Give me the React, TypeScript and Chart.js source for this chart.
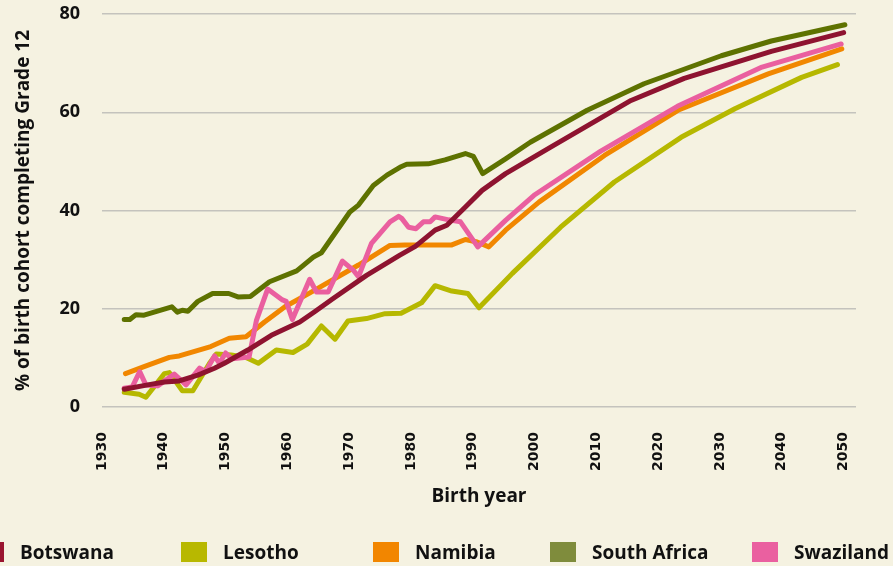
import React, { useEffect, useRef } from "react";
import { Chart, registerables } from "chart.js";

Chart.register(...registerables);

// ---- Data ----
const seriesNames = ["Botswana", "Lesotho", "Namibia", "South Africa", "Swaziland"];

const botswanaYears = [1933.6, 1937.4, 1940.1, 1942.5, 1945.5, 1948.2, 1949.8, 1953.6, 1957.4, 1962, 1964.4, 1967.4, 1972.8, 1978.2, 1980.7, 1983.9, 1985.8, 1988.8, 1991.5, 1995.3, 2002.6, 2015.6, 2024.2, 2038.3, 2050];
const botswanaValues = [3.6, 4.5, 5.1, 5.3, 6.5, 7.9, 8.9, 11.6, 14.6, 17.3, 19.4, 22.1, 26.8, 30.9, 32.7, 36.0, 37.0, 40.7, 44.1, 47.5, 52.9, 62.4, 66.9, 72.4, 76.2];

const lesothoYears = [1933.6, 1936, 1937.1, 1940.1, 1940.9, 1943, 1944.7, 1947.4, 1948.5, 1950.9, 1953.3, 1955.3, 1958.2, 1960.9, 1963.2, 1965.5, 1967.7, 1969.8, 1972.8, 1975.8, 1978.4, 1981.7, 1983.9, 1986.6, 1989.2, 1991, 1996.4, 2004.2, 2012.9, 2023.7, 2032.4, 2043.2, 2049];
const lesothoValues = [3.0, 2.6, 2.0, 6.8, 7.0, 3.3, 3.3, 8.9, 10.8, 10.6, 10.1, 8.9, 11.6, 11.1, 12.8, 16.5, 13.8, 17.5, 18.0, 19.0, 19.1, 21.2, 24.7, 23.6, 23.1, 20.2, 27.2, 36.6, 45.8, 54.9, 60.7, 67.1, 69.7];

const namibiaYears = [1933.8, 1936.8, 1940.9, 1942.5, 1947.6, 1950.6, 1953.3, 1956.3, 1959.6, 1964, 1971.5, 1976.6, 1979, 1986.6, 1988.8, 1990.7, 1992.6, 1995.3, 2000.7, 2011.3, 2023.2, 2037.8, 2049.7];
const namibiaValues = [6.8, 8.2, 10.1, 10.4, 12.3, 14.0, 14.3, 17.3, 20.4, 23.5, 28.9, 32.9, 33.0, 33.0, 34.1, 33.6, 32.6, 36.0, 41.7, 51.2, 60.4, 67.8, 72.9];

const southAfricaYears = [1933.6, 1934.5, 1935.5, 1936.8, 1941.3, 1942.2, 1943, 1943.9, 1945.5, 1947.9, 1950.5, 1952, 1954, 1957.1, 1961.5, 1964.2, 1965.5, 1970.1, 1971.5, 1973.9, 1976.1, 1978.2, 1979.3, 1982.8, 1985.5, 1988.8, 1990.1, 1991.6, 1995.3, 1999.3, 2008.5, 2017.7, 2030.2, 2038.3, 2050.2];
const southAfricaValues = [17.8, 17.8, 18.8, 18.7, 20.4, 19.3, 19.7, 19.5, 21.5, 23.1, 23.1, 22.4, 22.5, 25.5, 27.7, 30.5, 31.4, 39.7, 41.1, 45.1, 47.2, 48.8, 49.4, 49.5, 50.3, 51.6, 51.0, 47.5, 50.5, 53.9, 60.4, 65.8, 71.5, 74.5, 77.8];

const swazilandYears = [1933.6, 1934.9, 1936.1, 1937.1, 1939, 1941.7, 1943.6, 1945.8, 1946.8, 1948.2, 1949, 1950, 1951, 1953.8, 1955, 1956.8, 1959.2, 1959.8, 1960.8, 1963.6, 1964.7, 1966.6, 1968.9, 1970.7, 1971.5, 1973.6, 1976.6, 1978, 1978.5, 1979.6, 1980.8, 1982, 1983.1, 1983.9, 1986.1, 1988, 1990.8, 1995.3, 1999.9, 2010.7, 2023.1, 2036.8, 2049.6];
const swazilandValues = [3.8, 4.1, 7.2, 4.5, 4.3, 6.7, 4.5, 7.9, 7.2, 10.4, 8.9, 11.0, 9.8, 10.2, 17.7, 24.0, 21.8, 21.5, 17.8, 26.0, 23.4, 23.4, 29.7, 27.8, 26.5, 33.3, 37.7, 38.8, 38.4, 36.6, 36.3, 37.7, 37.7, 38.7, 38.1, 37.7, 32.6, 38.0, 43.1, 52.1, 61.2, 69.2, 73.9];

const yTickValues = [0, 20, 40, 60, 80];
const xTickYears = [1930, 1940, 1950, 1960, 1970, 1980, 1990, 2000, 2010, 2020, 2030, 2040, 2050];

// ---- Styles ----
const lineColors = ["#8e1330", "#b6b800", "#f18700", "#5e7200", "#ea5f9f"];
const legendColors = ["#9a1530", "#b8b800", "#f28600", "#7f8c3c", "#ea60a0"];
const drawOrder = [0, 4, 2, 3, 1];
const BG = "#f5f2e1";
const TEXT = "#111111";

const toPoints = (xs: number[], ys: number[]) => xs.map((x, i) => ({ x, y: ys[i] }));

const seriesData = [
  toPoints(botswanaYears, botswanaValues),
  toPoints(lesothoYears, lesothoValues),
  toPoints(namibiaYears, namibiaValues),
  toPoints(southAfricaYears, southAfricaValues),
  toPoints(swazilandYears, swazilandValues),
];

const bgPlugin = {
  id: "bgFill",
  beforeDraw(chart: any) {
    const { ctx, width, height } = chart;
    ctx.save();
    ctx.fillStyle = BG;
    ctx.fillRect(0, 0, width, height);
    ctx.restore();
  },
};

// legend item left edges (layout)
const legendStarts = [-22, 181, 373, 550, 752];

const legendPlugin = {
  id: "bottomLegend",
  afterDraw(chart: any) {
    const { ctx } = chart;
    ctx.save();
    ctx.font = "bold 19px 'Open Sans'";
    ctx.textBaseline = "alphabetic";
    ctx.textAlign = "left";
    chart.data.datasets.forEach((ds: any, i: number) => {
      const x0 = legendStarts[i];
      ctx.fillStyle = legendColors[i];
      ctx.fillRect(x0, 542, 26, 20);
      ctx.fillStyle = TEXT;
      ctx.fillText(ds.label, x0 + 42, 559);
    });
    ctx.restore();
  },
};

export default function App() {
  const ref = useRef<HTMLCanvasElement | null>(null);

  useEffect(() => {
    document.body.style.margin = "0";
    document.body.style.background = BG;
    const canvas = ref.current;
    if (!canvas) return;
    const chart = new Chart(canvas, {
      type: "line",
      data: {
        datasets: seriesNames.map((name, i) => ({
          label: name,
          data: seriesData[i],
          borderColor: lineColors[i],
          backgroundColor: lineColors[i],
          borderWidth: 5,
          borderCapStyle: "round",
          borderJoinStyle: "round",
          pointRadius: 0,
          tension: 0,
          fill: false,
          order: drawOrder[i],
        })),
      },
      options: {
        responsive: false,
        maintainAspectRatio: false,
        devicePixelRatio: 1,
        animation: false,
        events: [],
        layout: { padding: { left: 0, right: 37, top: 14, bottom: 54 } },
        plugins: {
          legend: { display: false },
          tooltip: { enabled: false },
        },
        scales: {
          x: {
            type: "linear",
            min: 1930,
            max: 2052,
            afterBuildTicks: (s: any) => {
              s.ticks = xTickYears.map((v) => ({ value: v }));
            },
            afterFit: (s: any) => {
              s.height = 105;
            },
            grid: { display: false, drawTicks: false },
            border: { display: false },
            ticks: {
              autoSkip: false,
              minRotation: 90,
              maxRotation: 90,
              padding: 25,
              color: TEXT,
              font: { family: "'DejaVu Sans'", weight: "bold", size: 14 },
              callback: (v: any) => String(v),
            },
            title: {
              display: true,
              text: "Birth year",
              color: TEXT,
              font: { family: "'Open Sans'", weight: "bold", size: 19 },
              padding: { top: 4, bottom: 4 },
            },
          },
          y: {
            min: 0,
            max: 80,
            afterBuildTicks: (s: any) => {
              s.ticks = yTickValues.map((v) => ({ value: v }));
            },
            afterFit: (s: any) => {
              s.width = 102;
              s.paddingTop = 0;
              s.paddingBottom = 0;
            },
            grid: { color: "#c4c3bd", lineWidth: 1.5, drawTicks: false },
            border: { display: false },
            ticks: {
              padding: 22,
              color: TEXT,
              font: { family: "'Open Sans'", weight: "bold", size: 18 },
            },
            title: {
              display: true,
              text: "% of birth cohort completing Grade 12",
              color: TEXT,
              font: { family: "'Open Sans'", weight: "bold", size: 19 },
              padding: { top: 12, bottom: 0 },
            },
          },
        },
      },
      plugins: [bgPlugin, legendPlugin],
    } as any);
    return () => chart.destroy();
  }, []);

  return (
    <div style={{ position: "fixed", left: 0, top: 0, width: 893, height: 566, background: BG, overflow: "hidden" }}>
      <canvas ref={ref} width={893} height={566} style={{ display: "block" }} />
    </div>
  );
}
